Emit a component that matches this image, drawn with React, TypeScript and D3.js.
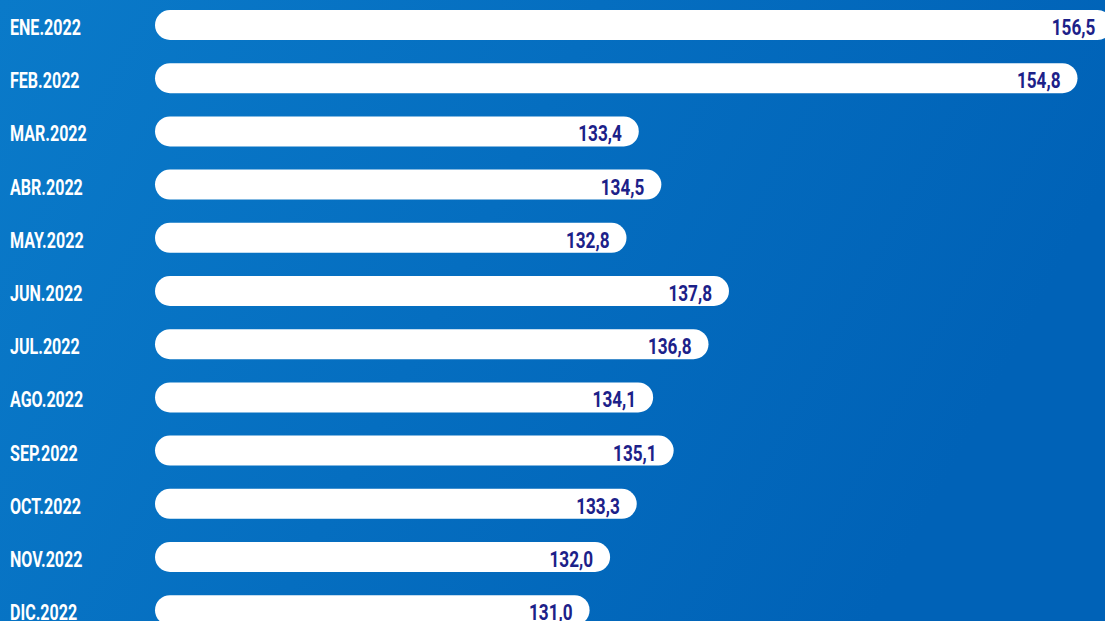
import React from "react";
import * as d3 from "d3";

const months = ["ENE.2022","FEB.2022","MAR.2022","ABR.2022","MAY.2022","JUN.2022","JUL.2022","AGO.2022","SEP.2022","OCT.2022","NOV.2022","DIC.2022"];
const values = [156.5,154.8,133.4,134.5,132.8,137.8,136.8,134.1,135.1,133.3,132.0,131.0];

const W = 1105, H = 621;

export default function App() {
  React.useEffect(() => { document.body.style.margin = "0"; }, []);
  const x = d3.scaleLinear().domain([109.8, 150]).range([155, 155 + 40.2 * 20.5]);
  const y = d3.scalePoint<string>().domain(months).range([25, 610.2]);
  const barH = 30;
  const fmt = (v: number) => d3.format(".1f")(v).replace(".", ",");
  const font = "Roboto, 'Liberation Sans', sans-serif";
  return (
    <svg width={W} height={H} style={{ display: "block", position: "absolute", left: 0, top: 0 }}>
      <defs>
        <linearGradient id="bg" x1="0" y1="0" x2="1" y2="0.3">
          <stop offset="0" stopColor="#0a7ac9" />
          <stop offset="1" stopColor="#0062b7" />
        </linearGradient>
      </defs>
      <rect width={W} height={H} fill="url(#bg)" />
      {months.map((m, i) => {
        const cy = y(m)!;
        const x0 = x(109.8);
        const x1 = x(values[i]);
        return (
          <g key={m}>
            <rect x={x0} y={cy - barH / 2} width={x1 - x0} height={barH} rx={15} ry={15} fill="#ffffff" />
            <g transform={`translate(10,${cy + 10}) scale(0.73,1)`}>
              <text x={0} y={0} fill="#ffffff" fontFamily={font} fontWeight={700} fontSize={22}>{m}</text>
            </g>
            <g transform={`translate(${x1 - 17},${cy + 10}) scale(0.78,1)`}>
              <text x={0} y={0} textAnchor="end" fill="#1c2189" fontFamily={font} fontWeight={700} fontSize={22}>{fmt(values[i])}</text>
            </g>
          </g>
        );
      })}
    </svg>
  );
}
